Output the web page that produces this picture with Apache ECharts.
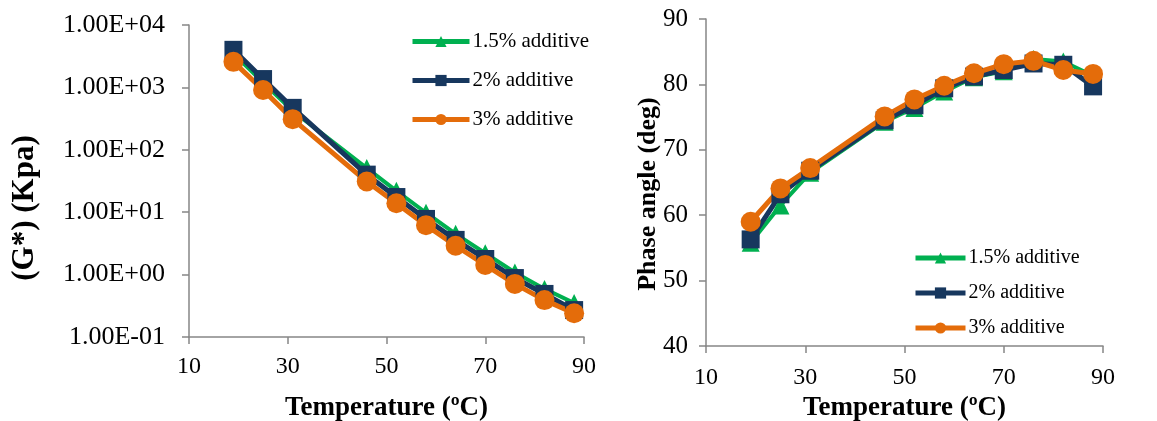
<!DOCTYPE html>
<html>
<head>
<meta charset="utf-8">
<script src="https://cdn.jsdelivr.net/npm/echarts@6/dist/echarts.min.js"></script>
<style>
  html, body { margin: 0; padding: 0; background: #fff; }
  #chart { width: 1157px; height: 421px; }
</style>
</head>
<body>
<div id="chart"></div>
<script>
// Test temperatures (°C)
const temperatures = [19, 25, 31, 46, 52, 58, 64, 70, 76, 82, 88];

// Complex modulus G* (kPa)
const modulus15 = [3500, 1200, 420, 51, 22, 9.8, 4.5, 2.2, 1.08, 0.59, 0.35];
const modulus2  = [4000, 1360, 470, 40, 17.5, 7.8, 3.6, 1.78, 0.88, 0.49, 0.27];
const modulus3  = [2570, 910, 310, 31, 13.9, 6.2, 2.9, 1.43, 0.71, 0.39, 0.24];

// Phase angle (deg)
const phase15 = [55.8, 61.5, 66.5, 74.3, 76.4, 78.9, 81.1, 82.0, 83.9, 83.5, 81.3];
const phase2  = [56.3, 63.2, 66.8, 74.5, 76.8, 79.4, 81.2, 82.2, 83.2, 83.0, 79.7];
const phase3  = [59.0, 64.1, 67.2, 75.1, 77.7, 79.8, 81.7, 83.1, 83.6, 82.2, 81.6];

const seriesNames = ['1.5% additive', '2% additive', '3% additive'];

const FONT = '"Liberation Serif", "Times New Roman", serif';
const AXIS_GREY = '#868686';
const styles = [
  { color: '#00B050', symbol: 'triangle', size: 18, width: 4 },
  { color: '#17375E', symbol: 'rect', size: 18, width: 5 },
  { color: '#E46C0A', symbol: 'circle', size: 20, width: 5 }
];

const pairs = (ys) => temperatures.map((t, i) => [t, ys[i]]);

function sciLabel(v) {
  const e = Math.round(Math.log10(v));
  const sign = e < 0 ? '-' : '+';
  return '1.00E' + sign + String(Math.abs(e)).padStart(2, '0');
}

function xAxisFor(gridIndex, gap, labelMargin) {
  return {
    gridIndex, type: 'value', min: 10, max: 90, interval: 20,
    name: 'Temperature (ºC)', nameLocation: 'middle', nameGap: gap,
    nameTextStyle: { fontFamily: FONT, fontWeight: 'bold', fontSize: 27, color: '#000' },
    axisLine: { show: true, lineStyle: { color: AXIS_GREY, width: 1.5 } },
    axisTick: { show: true, inside: false, length: 7, lineStyle: { color: AXIS_GREY, width: 1.5 } },
    axisLabel: { fontFamily: FONT, fontSize: 24, color: '#000', margin: labelMargin },
    splitLine: { show: false }
  };
}

function buildSeries(sets, axisIndex) {
  return sets.map((ys, k) => ({
    name: seriesNames[k],
    type: 'line',
    xAxisIndex: axisIndex, yAxisIndex: axisIndex,
    data: pairs(ys),
    symbol: styles[k].symbol,
    symbolSize: styles[k].size,
    showAllSymbol: true,
    lineStyle: { color: styles[k].color, width: styles[k].width },
    itemStyle: { color: styles[k].color },
    emphasis: { disabled: true },
    animation: false
  }));
}

function legendAt(left, top, iconWidth, gap, fontSize) {
  return {
    orient: 'vertical',
    left, top, padding: 0,
    itemWidth: iconWidth, itemHeight: 14, itemGap: gap,
    lineStyle: { width: 5 },
    textStyle: { fontFamily: FONT, fontSize, color: '#000', padding: [0, 0, 0, -2] },
    data: seriesNames,
    selectedMode: false
  };
}

const chart = echarts.init(document.getElementById('chart'), null, { renderer: 'canvas' });
chart.setOption({
  animation: false,
  backgroundColor: '#fff',
  grid: [
    { left: 189, top: 25, width: 395, height: 312, containLabel: false, outerBoundsMode: 'none' },
    { left: 706, top: 19, width: 397, height: 327, containLabel: false, outerBoundsMode: 'none' }
  ],
  xAxis: [xAxisFor(0, 58, 18), xAxisFor(1, 45, 20)],
  yAxis: [
    {
      gridIndex: 0, type: 'log', logBase: 10, min: 0.1, max: 10000,
      axisLine: { show: true, lineStyle: { color: AXIS_GREY, width: 1.5 } },
      axisTick: { show: true, inside: false, length: 7, lineStyle: { color: AXIS_GREY, width: 1.5 } },
      axisLabel: { fontFamily: FONT, fontSize: 26, color: '#000', margin: 24, formatter: sciLabel },
      splitLine: { show: false }
    },
    {
      gridIndex: 1, type: 'value', min: 40, max: 90, interval: 10,
      axisLine: { show: true, lineStyle: { color: AXIS_GREY, width: 1.5 } },
      axisTick: { show: true, inside: false, length: 7, lineStyle: { color: AXIS_GREY, width: 1.5 } },
      axisLabel: { fontFamily: FONT, fontSize: 25, color: '#000', margin: 18 },
      splitLine: { show: false }
    }
  ],
  legend: [
    legendAt(410, 31, 57, 18, 21),
    legendAt(913, 248, 50, 15, 20)
  ],
  graphic: [
    {
      type: 'text', x: 25, y: 208, rotation: Math.PI / 2,
      style: { text: '(G*) (Kpa)', font: 'bold 31px ' + FONT, fill: '#000', textAlign: 'center', textVerticalAlign: 'middle' }
    },
    {
      type: 'text', x: 648, y: 194, rotation: Math.PI / 2,
      style: { text: 'Phase angle (deg)', font: 'bold 26px ' + FONT, fill: '#000', textAlign: 'center', textVerticalAlign: 'middle' }
    }
  ],
  series: [
    ...buildSeries([modulus15, modulus2, modulus3], 0),
    ...buildSeries([phase15, phase2, phase3], 1)
  ]
});
</script>
</body>
</html>
